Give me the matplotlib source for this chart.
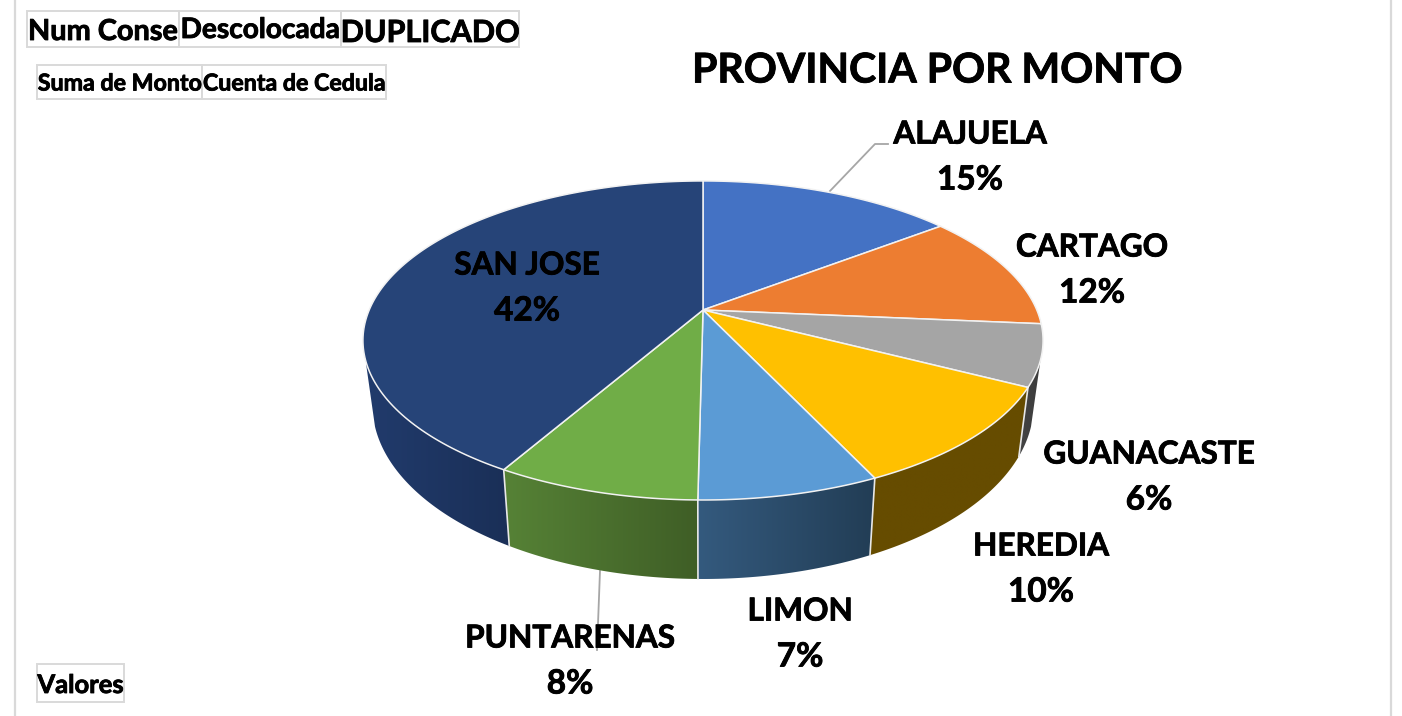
import numpy as np
import matplotlib
matplotlib.use("Agg")
import matplotlib.pyplot as plt
import matplotlib.patheffects as pe
from matplotlib.patches import Polygon, Rectangle
from matplotlib.colors import to_rgb

plt.rcParams["font.family"] = ["Lato", "DejaVu Sans"]
plt.rcParams["font.weight"] = "bold"

provincias = ["ALAJUELA", "CARTAGO", "GUANACASTE", "HEREDIA", "LIMON", "PUNTARENAS", "SAN JOSE"]
# share of monto
montos = [14.6, 11.8, 6.2, 10.4, 7.2, 8.1, 41.7]
top_colors = ["#4472C4", "#ED7D31", "#A5A5A5", "#FFC000", "#5B9BD5", "#70AD47", "#264478"]
wall_left = ["#2f5597", "#b85f22", "#444444", "#664C00", "#345A7E", "#568236", "#213B6C"]
wall_right = ["#2f5597", "#b85f22", "#3c3c3c", "#664C00", "#223D55", "#3F5E26", "#1A2F57"]

botones_fila1 = ["Num Conse", "Descolocada", "DUPLICADO"]
botones_fila2 = ["Suma de Monto", "Cuenta de Cedula"]
boton_valores = "Valores"
titulo = "PROVINCIA POR MONTO"

# label centres in pixels
label_pos = {
    "ALAJUELA": (970, 134),
    "CARTAGO": (1092, 247),
    "GUANACASTE": (1149, 454),
    "HEREDIA": (1041, 546),
    "LIMON": (800, 611),
    "PUNTARENAS": (570, 638),
    "SAN JOSE": (527, 265),
}

# perspective disc: apex of the slices, and how a unit circle maps to pixels
CX, CY = 703, 310
A, B, K = 333.8, 153.7, 0.191
WALL_FROM, WALL_TO = np.radians(107.9), np.radians(252.1)
HEAVY = [pe.withStroke(linewidth=0.6, foreground="black")]


def top_xy(theta):
    u, v = np.sin(theta), np.cos(theta)
    d = 1 + K * v
    return CX + A * u / d, CY - B * v / d


def bottom_xy(theta):
    x, y = top_xy(theta)
    return CX + 0.972 * (x - CX), 579 - 1.09 * (500 - y)


fig = plt.figure(figsize=(14.02, 7.16), dpi=100)
ax = fig.add_axes([0, 0, 1, 1])

# chart frame
ax.plot([15, 15], [0, 716], color="#d9d9d9", lw=1.6)
ax.plot([1391, 1391], [0, 716], color="#d9d9d9", lw=1.6)

# leader lines
ax.plot([830, 875, 888], [191, 144, 144], color="#a6a6a6", lw=1.3, zorder=1)
ax.plot([600, 597], [571, 650], color="#a6a6a6", lw=1.3, zorder=1)

fracs = np.array(montos) / sum(montos)
edges = np.concatenate([[0], np.cumsum(fracs)]) * 2 * np.pi

# side walls first, a horizontal gradient image clipped to each wall
for i in range(len(montos)):
    a0 = max(edges[i], WALL_FROM)
    a1 = min(edges[i + 1], WALL_TO)
    if a1 <= a0:
        continue
    ts = np.linspace(a0, a1, 80)
    tx, ty = top_xy(ts)
    bx, by = bottom_xy(ts)
    pts = np.column_stack([np.r_[tx, bx[::-1]], np.r_[ty, by[::-1]]])
    shape = Polygon(pts, closed=True, fc="none", ec="none", transform=ax.transData)
    ax.add_patch(shape)
    c0, c1 = np.array(to_rgb(wall_left[i])), np.array(to_rgb(wall_right[i]))
    grad = np.linspace(0, 1, 128)[None, :, None]
    img = c0 + (c1 - c0) * grad
    im = ax.imshow(img, extent=[pts[:, 0].min(), pts[:, 0].max(), pts[:, 1].max(), pts[:, 1].min()],
                   aspect="auto", zorder=2, interpolation="bilinear")
    im.set_clip_path(shape)
    # white seam between neighbouring walls
    if edges[i] >= WALL_FROM and i > 0:
        sx, sy = top_xy(edges[i])
        ex, ey = bottom_xy(edges[i])
        ax.plot([sx, ex], [sy, ey], color="#e8e8e8", lw=1.2, zorder=3)

ax.set_xlim(0, 1402)
ax.set_ylim(716, 0)
ax.axis("off")

# top of the pie
for i in range(len(montos)):
    ts = np.linspace(edges[i], edges[i + 1], 150)
    x, y = top_xy(ts)
    pts = np.column_stack([np.r_[CX, x], np.r_[CY, y]])
    ax.add_patch(Polygon(pts, closed=True, fc=top_colors[i], ec="#f2f2f2", lw=1.1, zorder=4, joinstyle="round"))

# labels
for nombre, valor in zip(provincias, montos):
    lx, ly = label_pos[nombre]
    ax.text(lx, ly, nombre, ha="center", va="center", fontsize=22.7, color="black", zorder=6, path_effects=HEAVY)
    ax.text(lx, ly + 46, f"{round(valor)}%", ha="center", va="center", fontsize=24, color="black", zorder=6, path_effects=HEAVY)

ax.text(937, 71, titulo, ha="center", va="center", fontsize=29.5, color="black", path_effects=HEAVY)


def boton(x0, x1, y0, y1, txt, size, dy=3):
    ax.add_patch(Rectangle((x0, y0), x1 - x0, y1 - y0, fc="white", ec="#d9d9d9", lw=1.4, zorder=5))
    ax.text((x0 + x1) / 2, (y0 + y1) / 2 + dy, txt, ha="center", va="center", fontsize=size, color="black", zorder=6, path_effects=HEAVY)


for (x0, x1), txt, size, dy in zip([(27, 179), (179, 341), (341, 519)], botones_fila1, [20.8, 20.2, 22], [3, 1, 4]):
    boton(x0, x1, 11, 47, txt, size, dy)
for (x0, x1), txt in zip([(37, 202), (202, 386)], botones_fila2):
    boton(x0, x1, 65, 99, txt, 16.7, 2)
boton(37, 124, 664, 702, boton_valores, 18.4, 2)

fig.savefig("out.png", dpi=100)
